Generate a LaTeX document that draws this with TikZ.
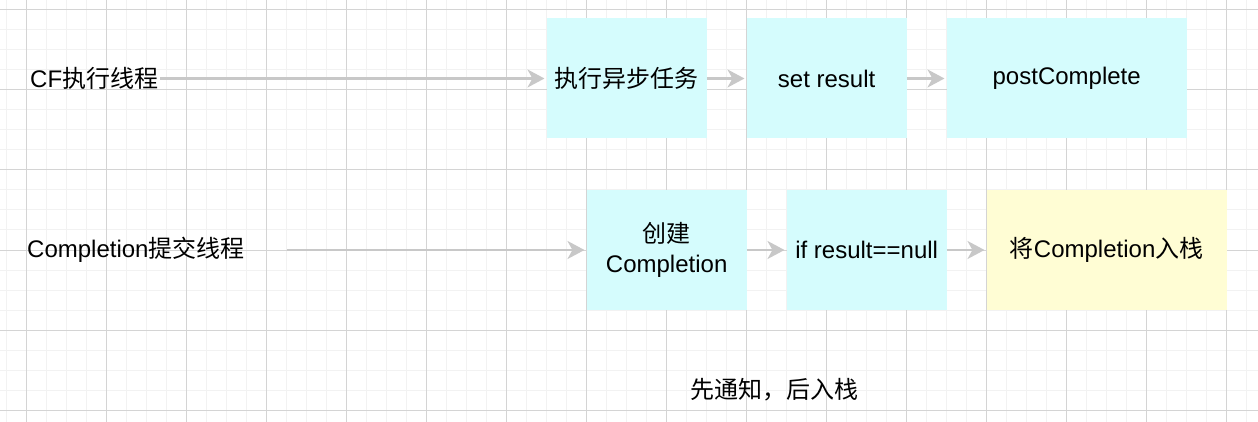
\documentclass[tikz,border=0pt]{standalone}
\usepackage{fontspec}
\setmainfont{Liberation Sans}
\newfontfamily\cjk{Noto Sans CJK SC}
\usetikzlibrary{arrows.meta}
\definecolor{boxcyan}{RGB}{213,252,253}
\definecolor{boxyellow}{RGB}{255,253,212}
\definecolor{arrgray}{RGB}{200,200,200}
\definecolor{gmaj}{RGB}{212,212,212}
\definecolor{gmin}{RGB}{242,242,242}
\tikzset{
  stepbox/.style={rectangle, fill=boxcyan, draw=none, inner sep=0pt, minimum height=120pt, minimum width=160pt, align=center, font=\fontsize{24}{30}\selectfont},
  label/.style={inner sep=0pt, anchor=west, font=\fontsize{24}{30}\selectfont},
  flow/.style={draw=arrgray, line width=2.2pt, shorten >=2pt, -{Stealth[length=17pt, width=18pt, inset=5pt]}},
}
\begin{document}
\begin{tikzpicture}[x=1pt,y=-1pt]
\useasboundingbox (0,0) rectangle (1258,422);
\fill[white] (0,0) rectangle (1258,422);
\begin{scope}
\clip (0,0) rectangle (1258,422);
\foreach \i in {0,...,62} \draw[gmin, line width=1pt] ({6.67+20*\i},0) -- ++(0,422);
\foreach \j in {0,...,21} \draw[gmin, line width=1pt] (0,{10+20*\j}) -- ++(1258,0);
\foreach \i in {0,...,15} \draw[gmaj, line width=1pt] ({26.67+80*\i},0) -- ++(0,422);
\foreach \j in {0,...,5} \draw[gmaj, line width=1pt] (0,{10+80*\j}) -- ++(1258,0);
\end{scope}

% row 1
\node[label] (t1) at (30,78.5) {CF{\cjk 执行线程}};
\node[stepbox] (b1) at (626.67,78.5) {{\cjk 执行异步任务}};
\node[stepbox] (b2) at (826.67,78.5) {set result};
\node[stepbox, minimum width=240pt] (b3) at (1066.67,78.5) {postComplete};
\coordinate (s1) at (160,78.5);
\draw[flow] (s1) -- (b1.west);
\draw[flow] (b1.east) -- (b2.west);
\draw[flow] (b2.east) -- (b3.west);

% row 2
\node[label] (t2) at (27,250) {Completion{\cjk 提交线程}};
\node[stepbox] (c1) at (666.67,250) {{\cjk 创建}\\Completion};
\node[stepbox] (c2) at (866.67,250) {if result==null};
\node[stepbox, fill=boxyellow, minimum width=240pt] (c3) at (1106.67,250) {{\cjk 将}Completion{\cjk 入栈}};
\coordinate (s2) at (287,250);
\draw[flow] (s2) -- (c1.west);
\draw[flow] (c1.east) -- (c2.west);
\draw[flow] (c2.east) -- (c3.west);

\node[inner sep=0pt, font=\fontsize{24}{30}\selectfont\cjk] (note) at (774,390) {先通知，后入栈};
\end{tikzpicture}
\end{document}
